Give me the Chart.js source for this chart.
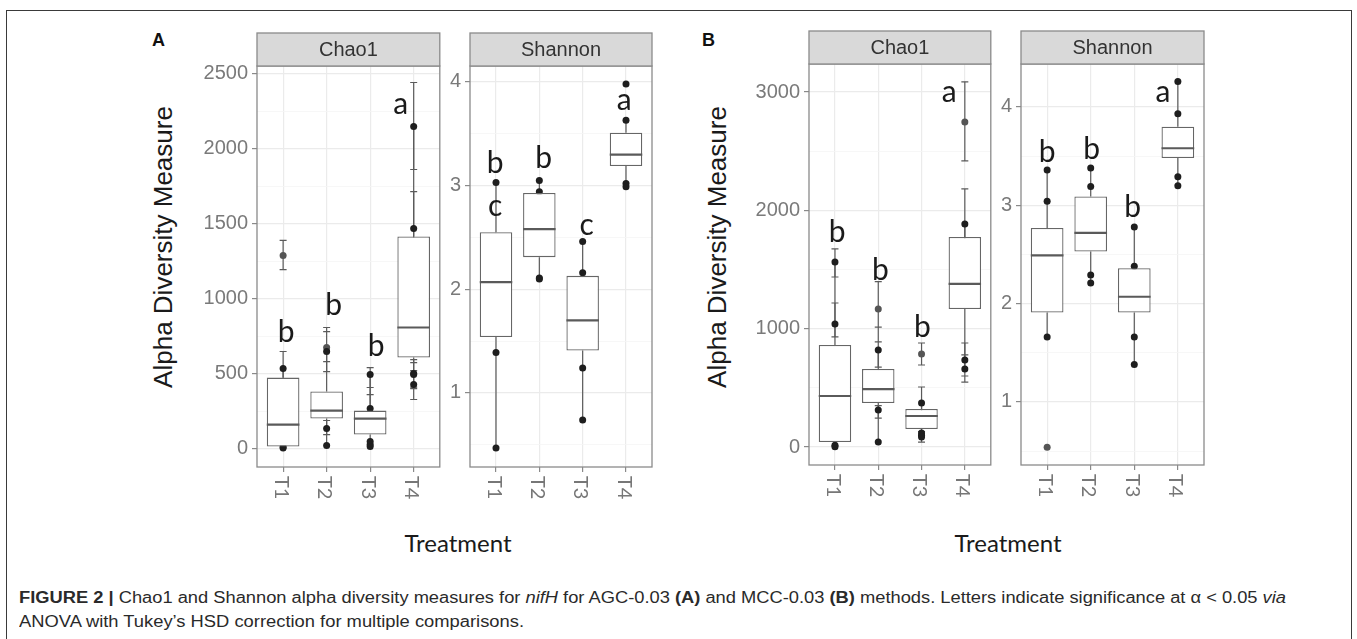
<!DOCTYPE html>
<html><head><meta charset="utf-8">
<script src="https://cdn.jsdelivr.net/npm/chart.js@4.4.0/dist/chart.umd.min.js"></script>
<style>
html,body{margin:0;padding:0;background:#fff;width:1357px;height:639px;overflow:hidden;position:relative;font-family:"Liberation Sans",Arial,sans-serif;}
canvas{position:absolute;}
.frame{position:absolute;left:6px;top:10px;width:1344px;height:680px;border:1px solid #3a3a3a;}
.ytitle{position:absolute;font-size:26px;color:#1a1a1a;white-space:nowrap;transform:translate(-50%,-50%) rotate(-90deg);}
.xtitle{position:absolute;font-family:Lato,"Open Sans",sans-serif;font-size:24px;color:#1a1a1a;transform:translate(-50%,-50%);white-space:nowrap;}
.tag{position:absolute;font-weight:bold;font-size:18px;color:#111;line-height:18px;}
.cap{position:absolute;left:19px;font-size:16px;line-height:18px;color:#2a2a2a;white-space:nowrap;transform-origin:0 50%;}
</style></head>
<body>
<div class="frame"></div>
<div class="tag" style="left:152px;top:31px">A</div>
<div class="tag" style="left:702px;top:31px">B</div>
<div class="ytitle" style="left:163px;top:247px">Alpha Diversity Measure</div>
<div class="ytitle" style="left:717px;top:247px">Alpha Diversity Measure</div>
<div class="xtitle" style="left:458px;top:542px">Treatment</div>
<div class="xtitle" style="left:1008px;top:542px">Treatment</div>
<canvas id="aChao"></canvas>
<canvas id="aShan"></canvas>
<canvas id="bChao"></canvas>
<canvas id="bShan"></canvas>
<div class="cap" id="cap1" style="top:589px"><b>FIGURE 2 |</b> Chao1 and Shannon alpha diversity measures for <i>nifH</i> for AGC-0.03 <b>(A)</b> and MCC-0.03 <b>(B)</b> methods. Letters indicate significance at α &lt; 0.05 <i>via</i></div>
<div class="cap" id="cap2" style="top:613px">ANOVA with Tukey’s HSD correction for multiple comparisons.</div>
<script>
const treatments = ['T1','T2','T3','T4'];
const stripLabels = ['Chao1','Shannon'];

// box stats per treatment: [lower whisker, Q1, median, Q3, upper whisker]
const aChaoBoxes = [[3,13,160,473,533],[20,200,253,380,647],[13,93,200,253,493],[427,607,807,1413,2147]];
const aShanBoxes = [[0.47,1.54,2.07,2.55,3.03],[2.10,2.31,2.58,2.93,3.05],[0.74,1.41,1.70,2.13,2.46],[2.99,3.19,3.30,3.51,3.63]];
const bChaoBoxes = [[3,42,431,862,1564],[42,372,490,659,820],[85,152,262,321,372],[659,1166,1378,1775,1885]];
const bShanBoxes = [[1.66,1.91,2.49,2.77,3.36],[2.21,2.53,2.72,3.09,3.38],[1.38,1.91,2.07,2.36,2.78],[3.20,3.48,3.58,3.80,4.26]];

// sample points: [treatment no., value, error low, error high, outlier flag]
const aChaoPoints = [
  [1,1287,1193,1387,1],[1,533,420,647,0],[1,10,null,null,0],[1,3,null,null,0],
  [2,673,513,807,1],[2,647,580,780,0],[2,133,93,187,0],[2,20,null,null,0],
  [3,493,360,540,0],[3,267,200,407,0],[3,47,null,null,0],[3,27,null,null,0],[3,13,null,null,0],
  [4,2147,1860,2440,0],[4,1467,1340,1713,0],[4,500,410,593,0],[4,493,400,573,0],[4,427,327,520,0]
];
const aShanPoints = [
  [1,3.03,null,null,0],[1,1.39,null,null,0],[1,0.47,null,null,0],
  [2,3.05,null,null,0],[2,2.94,null,null,0],[2,2.11,null,null,0],[2,2.10,null,null,0],
  [3,2.46,null,null,0],[3,2.16,null,null,0],[3,1.24,null,null,0],[3,0.74,null,null,0],
  [4,3.98,null,null,0],[4,3.63,null,null,0],[4,3.02,null,null,0],[4,2.99,null,null,0]
];
const bChaoPoints = [
  [1,1564,1437,1674,0],[1,1040,930,1217,0],[1,15,null,null,0],[1,3,null,null,0],
  [2,1166,888,1397,1],[2,820,676,1014,0],[2,313,245,350,0],[2,42,null,null,0],
  [3,786,693,879,1],[3,372,290,507,0],[3,118,null,null,0],[3,100,null,null,0],[3,85,42,130,0],
  [4,2747,2418,3086,1],[4,1885,1600,2181,0],[4,735,600,879,0],[4,659,549,778,0]
];
const bShanPoints = [
  [1,3.36,null,null,0],[1,3.04,null,null,0],[1,1.66,null,null,0],[1,0.54,null,null,1],
  [2,3.38,null,null,0],[2,3.19,null,null,0],[2,2.29,null,null,0],[2,2.21,null,null,0],
  [3,2.78,null,null,0],[3,2.38,null,null,0],[3,1.66,null,null,0],[3,1.38,null,null,0],
  [4,4.26,null,null,0],[4,3.93,null,null,0],[4,3.29,null,null,0],[4,3.20,null,null,0]
];

// significance letters: [x (treatment axis), y value, letter]
const aChaoLetters = [[1.07,707,'b'],[2.16,893,'b'],[3.14,620,'b'],[3.70,2227,'a']];
const aShanLetters = [[0.98,3.12,'b'],[0.98,2.71,'c'],[2.10,3.17,'b'],[3.09,2.52,'c'],[3.96,3.73,'a']];
const bChaoLetters = [[1.05,1733,'b'],[2.05,1412,'b'],[3.02,930,'b'],[3.64,2916,'a']];
const bShanLetters = [[1.00,3.44,'b'],[2.02,3.47,'b'],[2.96,2.88,'b'],[3.66,4.05,'a']];

const HALF_BOX = 0.375;
const LINE_COL = '#5a5a5a';

function makePanel(id, p) {
  const yWidth = p.yWidth, stripH = p.stripH, xH = 45;
  const cLeft = p.left - yWidth, cTop = p.top - stripH - 3;
  const cW = p.right - cLeft + 3, cH = p.bottom + xH - cTop;
  const cv = document.getElementById(id);
  cv.width = cW; cv.height = cH;
  cv.style.left = cLeft + 'px'; cv.style.top = cTop + 'px';
  cv.style.width = cW + 'px'; cv.style.height = cH + 'px';

  const boxData = p.boxes.map((b, i) => ({x: i + 1, y: [b[1], b[3]]}));
  const medData = [], whiskData = [], errData = [], capData = [];
  p.boxes.forEach((b, i) => {
    const x = i + 1;
    medData.push({x: x - HALF_BOX, y: b[2]}, {x: x + HALF_BOX, y: b[2]}, {x: x, y: null});
    whiskData.push({x, y: b[0]}, {x, y: b[1]}, {x, y: null}, {x, y: b[3]}, {x, y: b[4]}, {x, y: null});
  });
  p.points.forEach(pt => {
    if (pt[2] !== null) {
      errData.push({x: pt[0], y: pt[2]}, {x: pt[0], y: pt[3]}, {x: pt[0], y: null});
      capData.push({x: pt[0], y: pt[2]}, {x: pt[0], y: pt[3]});
    }
  });
  const ptData = p.points.map(pt => ({x: pt[0], y: pt[1]}));
  const ptColors = p.points.map(pt => pt[4] ? '#555555' : '#1e1e1e');
  const isMajor = v => Math.abs(v / p.major - Math.round(v / p.major)) < 1e-6;

  const decor = {
    id: 'decor' + id,
    afterDatasetsDraw(chart) {
      const {ctx, scales: {x, y}} = chart;
      ctx.save();
      ctx.fillStyle = '#1a1a1a';
      ctx.font = '30px Lato, "Open Sans", sans-serif';
      ctx.textAlign = 'center';
      ctx.textBaseline = 'alphabetic';
      p.letters.forEach(l => ctx.fillText(l[2], x.getPixelForValue(l[0]), y.getPixelForValue(l[1])));
      ctx.restore();
    },
    afterDraw(chart) {
      const {ctx, chartArea: a, scales: {x}} = chart;
      ctx.save();
      ctx.strokeStyle = '#8a8a8a';
      ctx.lineWidth = 1.3;
      ctx.strokeRect(a.left, a.top, a.right - a.left, a.bottom - a.top);
      ctx.fillStyle = '#d9d9d9';
      ctx.fillRect(a.left, a.top - stripH, a.right - a.left, stripH);
      ctx.strokeRect(a.left, a.top - stripH, a.right - a.left, stripH);
      ctx.fillStyle = '#333';
      ctx.font = '20px "Liberation Sans", Arial, sans-serif';
      ctx.textAlign = 'center';
      ctx.textBaseline = 'middle';
      ctx.fillText(p.strip, (a.left + a.right) / 2, a.top - stripH / 2 + 1);
      ctx.font = '20px Lato, "Open Sans", sans-serif';
      ctx.fillStyle = '#777';
      x.ticks.forEach(t => {
        const lab = treatments[Math.round(t.value) - 1];
        if (!lab) return;
        ctx.save();
        ctx.translate(x.getPixelForValue(t.value) - 2, a.bottom + 9);
        ctx.rotate(Math.PI / 2);
        ctx.textAlign = 'left';
        ctx.textBaseline = 'middle';
        ctx.fillText(lab, 0, 0);
        ctx.restore();
      });
      ctx.restore();
    }
  };

  return new Chart(cv, {
    type: 'bar',
    data: {
      datasets: [
        {type: 'line', data: medData, borderColor: LINE_COL, borderWidth: 2.2, pointRadius: 0, spanGaps: false, order: 0},
        {type: 'bar', data: boxData, backgroundColor: '#ffffff', borderColor: '#666', borderWidth: 1.3, borderSkipped: false,
         categoryPercentage: 0.75, barPercentage: 1, order: 1},
        {type: 'line', data: ptData, showLine: false, pointRadius: 3.5, pointBackgroundColor: ptColors, pointBorderColor: ptColors,
         pointBorderWidth: 0, order: 2},
        {type: 'line', data: capData, showLine: false, pointStyle: 'line', pointRadius: 3.5, pointBorderColor: LINE_COL,
         pointBorderWidth: 1.2, order: 3},
        {type: 'line', data: errData, borderColor: LINE_COL, borderWidth: 1.2, pointRadius: 0, spanGaps: false, order: 4},
        {type: 'line', data: whiskData, borderColor: LINE_COL, borderWidth: 1.2, pointRadius: 0, spanGaps: false, order: 5}
      ]
    },
    options: {
      responsive: false,
      animation: false,
      events: [],
      layout: {padding: {top: p.top - cTop, right: 3, left: 0, bottom: 0}},
      plugins: {legend: {display: false}, tooltip: {enabled: false}},
      scales: {
        x: {
          type: 'linear', min: 0.4, max: 4.6, bounds: 'data', offset: false,
          afterBuildTicks: s => { s.ticks = treatments.map((t, i) => ({value: i + 1})); },
          ticks: {autoSkip: false, color: 'rgba(0,0,0,0)', font: {size: 10},
                  callback: v => treatments[Math.round(v) - 1] || ''},
          grid: {color: '#ebebeb', lineWidth: 1.2, tickLength: 5, tickColor: '#8a8a8a', offset: false, drawOnChartArea: true},
          border: {display: false},
          afterFit: s => { s.height = xH; }
        },
        y: {
          type: 'linear', min: p.yMin, max: p.yMax, bounds: 'data',
          afterBuildTicks: s => {
            const t = [];
            for (let k = Math.ceil(s.min / p.minor); k * p.minor <= s.max; k++) t.push({value: Math.round(k * p.minor * 1000) / 1000});
            s.ticks = t;
          },
          ticks: {autoSkip: false, padding: 4,
                  color: '#7a7a7a', font: {size: 20, family: '"Liberation Sans", Arial, sans-serif'},
                  callback: v => isMajor(v) ? String(Math.round(v * 100) / 100) : ''},
          grid: {
            color: c => isMajor(c.tick.value) ? '#ebebeb' : '#f5f5f5',
            lineWidth: c => isMajor(c.tick.value) ? 1.2 : 0.8,
            tickLength: 5,
            tickColor: c => isMajor(c.tick.value) ? '#8a8a8a' : 'rgba(0,0,0,0)'
          },
          border: {display: false},
          afterFit: s => { s.width = yWidth; }
        }
      }
    },
    plugins: [decor]
  });
}

makePanel('aChao', {left: 257, right: 442, top: 66, bottom: 467, stripH: 33, yWidth: 77, yMin: -123, yMax: 2550,
  minor: 250, major: 500, boxes: aChaoBoxes, points: aChaoPoints, letters: aChaoLetters, strip: stripLabels[0]});
makePanel('aShan', {left: 470, right: 653, top: 66, bottom: 467, stripH: 33, yWidth: 40, yMin: 0.286, yMax: 4.154,
  minor: 0.5, major: 1, boxes: aShanBoxes, points: aShanPoints, letters: aShanLetters, strip: stripLabels[1]});
makePanel('bChao', {left: 809, right: 993, top: 64, bottom: 465, stripH: 33, yWidth: 77, yMin: -152, yMax: 3237,
  minor: 500, major: 1000, boxes: bChaoBoxes, points: bChaoPoints, letters: bChaoLetters, strip: stripLabels[0]});
makePanel('bShan', {left: 1021, right: 1205, top: 64, bottom: 465, stripH: 33, yWidth: 40, yMin: 0.359, yMax: 4.437,
  minor: 0.5, major: 1, boxes: bShanBoxes, points: bShanPoints, letters: bShanLetters, strip: stripLabels[1]});

function fitCaption(id, target) {
  const el = document.getElementById(id);
  const w = el.getBoundingClientRect().width;
  el.style.transform = 'scaleX(' + (target / w) + ')';
}
fitCaption('cap1', 1267);
fitCaption('cap2', 505);
</script>
</body></html>
